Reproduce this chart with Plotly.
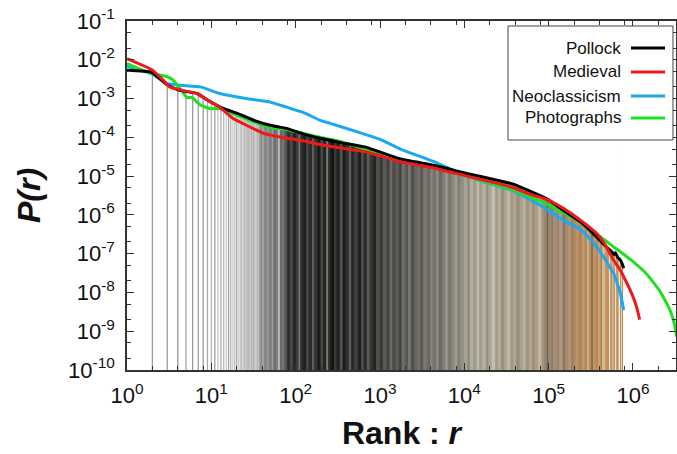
import plotly.graph_objects as go

# ---------------- data ----------------
pollock_rank = [1, 1.95, 2.95, 4.1, 6.8, 8.9, 13.8, 20, 32, 50, 78, 123, 195, 355, 690, 1700,
                4300, 10700, 26000, 38000, 60000, 95000, 150000, 240000, 370000, 500000,
                560000, 590000, 620000, 660000, 700000, 740000, 776000]
pollock_p = [5.4e-3, 4.8e-3, 2.3e-3, 1.65e-3, 1.35e-3, 9.3e-4, 5.6e-4, 4.2e-4, 2.75e-4, 2.05e-4,
             1.7e-4, 1.23e-4, 9.5e-5, 7.2e-5, 5.5e-5, 2.8e-5, 1.9e-5, 1.17e-5, 7.6e-6, 6.2e-6,
             4.1e-6, 2.6e-6, 1.3e-6, 6.6e-7, 2.7e-7, 1.4e-7, 1.12e-7, 9.5e-8, 1.05e-7, 7.9e-8,
             7.1e-8, 5.6e-8, 4.2e-8]

medieval_rank = [1, 1.95, 2.7, 3.2, 4.7, 6.8, 9.8, 12.6, 18, 26, 42, 65, 123, 195, 355, 690,
                 1740, 4400, 10700, 26300, 38000, 60000, 95000, 151000, 240000, 372000, 468000,
                 590000, 710000, 850000, 1000000, 1100000, 1200000]
medieval_p = [1.07e-2, 5.6e-3, 2.95e-3, 2.0e-3, 1.6e-3, 1.35e-3, 8.1e-4, 6.0e-4, 3.1e-4, 2.05e-4,
              1.26e-4, 1.02e-4, 8.1e-5, 6.5e-5, 5.2e-5, 4.2e-5, 2.35e-5, 1.6e-5, 1.0e-5, 6.3e-6,
              5.0e-6, 3.4e-6, 2.5e-6, 1.45e-6, 7.2e-7, 3.3e-7, 1.7e-7, 6.8e-8, 3.7e-8, 1.7e-8,
              7.8e-9, 4.3e-9, 2.0e-9]

neo_rank = [1, 1.95, 2.95, 4.3, 7.4, 12.6, 26, 50, 78, 123, 195, 257, 575, 1000, 1740, 4400,
            8900, 15500, 26300, 38000, 60000, 95000, 151000, 240000, 372000, 590000, 650000,
            710000, 776000]
neo_p = [6.8e-3, 4.4e-3, 2.45e-3, 2.2e-3, 2.0e-3, 1.35e-3, 1.0e-3, 8.1e-4, 6.0e-4, 4.4e-4,
         2.75e-4, 2.3e-4, 1.32e-4, 8.9e-5, 5.0e-5, 2.35e-5, 1.17e-5, 7.6e-6, 5.4e-6, 4.2e-6,
         2.5e-6, 1.4e-6, 7.2e-7, 4.2e-7, 1.5e-7, 3.1e-8, 1.7e-8, 9.3e-9, 3.5e-9]

photo_rank = [1, 1.95, 2.95, 3.55, 4.7, 5.1, 5.9, 7.4, 9.7, 12.6, 18, 32, 50, 78, 123, 195, 355,
              690, 1740, 4400, 10700, 26300, 38000, 60000, 95000, 151000, 240000, 372000,
              590000, 930000, 1450000, 2100000, 2750000, 3150000, 3300000]
photo_p = [7.9e-3, 4.4e-3, 3.7e-3, 2.95e-3, 1.35e-3, 1.07e-3, 1.07e-3, 6.8e-4, 5.5e-4, 5.5e-4,
           4.1e-4, 2.5e-4, 1.8e-4, 1.6e-4, 1.26e-4, 1.0e-4, 7.6e-5, 4.8e-5, 2.5e-5, 1.8e-5,
           1.0e-5, 5.6e-6, 4.4e-6, 2.9e-6, 1.9e-6, 1.1e-6, 6.6e-7, 3.2e-7, 1.5e-7, 7.1e-8,
           3.0e-8, 1.05e-8, 3.5e-9, 1.3e-9, 7.2e-10]

series_names = ["Pollock", "Medieval", "Neoclassicism", "Photographs"]
series_colors = ["#000000", "#ee1a1a", "#1ba8f0", "#1fe01f"]

# Pollock colour bars: individual low ranks
bar_ranks = list(range(2, 39))
bar_colors = ["#9a9a9a", "#9c9c9c", "#9a9a9a", "#a4a4a4", "#9a9a9a", "#a0a0a0", "#9c9c9c",
              "#a8a8a8", "#b8b8b8", "#a0a0a0", "#c6c6c6", "#aaaaaa", "#bcbcbc", "#c8c8c8",
              "#a4a4a4", "#b4b4b4", "#cccccc", "#bdbdbd", "#a8a8a8", "#d2d2d2", "#c0c0c0",
              "#b0b0b0", "#d0d0d0", "#a6a6a6", "#c4c4c4", "#b8b8b8", "#9e9e9e", "#cfcfcf",
              "#b2b2b2", "#c2c2c2", "#a2a2a2", "#bababa", "#d4d4d4", "#acacac", "#c0c0c0",
              "#9a9a9a", "#b6b6b6"]

# Pollock colour bars: dense ranks, given as log10(rank) of band starts
band_log10_rank = [1.58, 1.61, 1.63, 1.66, 1.69, 1.72, 1.74, 1.77, 1.80, 1.815, 1.84, 1.87,
                   1.90, 1.94, 1.97, 2.01, 2.04, 2.055, 2.09, 2.13, 2.16, 2.20, 2.22, 2.26, 2.30,
                   2.33, 2.37, 2.385, 2.42, 2.46, 2.49, 2.53, 2.56, 2.60, 2.64, 2.66, 2.70, 2.74,
                   2.78, 2.81, 2.85, 2.88, 2.92, 2.96, 3.00, 3.04, 3.08, 3.12, 3.15, 3.19, 3.23,
                   3.26, 3.30, 3.34, 3.37, 3.41, 3.45, 3.48, 3.52, 3.56, 3.60, 3.63, 3.67, 3.70,
                   3.74, 3.78, 3.81, 3.85, 3.89, 3.92, 3.96, 4.00, 4.04, 4.07, 4.11, 4.15, 4.18,
                   4.22, 4.26, 4.29, 4.33, 4.37, 4.40, 4.44, 4.48, 4.51, 4.55, 4.59, 4.62, 4.66,
                   4.70, 4.73, 4.77, 4.81, 4.84, 4.88, 4.92, 4.95, 4.985, 5.00, 5.03, 5.06, 5.10,
                   5.13, 5.17, 5.20, 5.24, 5.27, 5.30, 5.33, 5.36, 5.40, 5.43, 5.46, 5.48, 5.51,
                   5.53, 5.56, 5.59, 5.62, 5.64, 5.67, 5.70, 5.72, 5.73, 5.76, 5.775, 5.79, 5.80,
                   5.82, 5.835, 5.845, 5.86, 5.87, 5.882]
band_colors = ["#8e8e8e", "#a4a4a4", "#858585", "#959595", "#7c7c7c", "#9c9c9c", "#6f6f6f",
               "#7d7d7b", "#d6d6cc", "#666666", "#747472", "#5a5a5a", "#2e2e2e", "#4a4a48",
               "#262626", "#3c3c3a", "#8a8a80", "#303030", "#1e1e1e", "#454543", "#2a2a2a",
               "#666660", "#333333", "#1a1a1a", "#4a4a46", "#242424", "#9a9a8e", "#2c2c2c",
               "#141414", "#3a3a38", "#222222", "#55554f", "#1c1c1c", "#303030", "#6a6a62",
               "#262626", "#404040", "#1e1e1e", "#4e4e4a", "#2e2e2e", "#5e5e58", "#363636",
               "#242424", "#50504c", "#3a3a38", "#5a5955", "#444442", "#6a6964", "#4c4c48",
               "#5e5d58", "#3e3e3c", "#6e6d66", "#575652", "#7a786f", "#4e4d49", "#64635d",
               "#727068", "#5a5954", "#7c7a71", "#6a6862", "#85837a", "#74726a", "#8e8b80",
               "#6c6a63", "#807e74", "#9a978a", "#77756c", "#8a877c", "#a09c8e", "#838076",
               "#959184", "#a6a293", "#8d8a7e", "#b2ad9c", "#9e9a8c", "#c0baa8", "#a39e8f",
               "#b6b09e", "#928e80", "#aca696", "#c4bda9", "#a19a8a", "#b3ab98", "#988f80",
               "#aea491", "#c2b8a2", "#a49a88", "#b0a590", "#978d7c", "#aaa08b", "#bdb29b",
               "#a1957f", "#b2a58e", "#9b8f7c", "#ab9e88", "#c4b69d", "#a29480", "#948672",
               "#6a5546", "#a08a74", "#8f7a66", "#a89078", "#9a8470", "#b09880", "#8c7662",
               "#a48a70", "#b8966e", "#9a7e62", "#b48c64", "#c0925f", "#a98463", "#c69a68",
               "#b08660", "#d0b890", "#bc8c5c", "#8a6a50", "#c49464", "#b3895e", "#cfa06a",
               "#a88058", "#d6c29a", "#c8935a", "#b88a5e", "#ffffff", "#c4965e", "#d6c29a",
               "#b08255", "#ffffff", "#c89a64", "#b88c5c", "#ffffff", "#c08a52", "#e0d0a8",
               "#b58a5a"]

x_tick_vals = [1, 10, 100, 1000, 10000, 100000, 1000000]
x_tick_text = ["10<sup>0</sup>", "10<sup>1</sup>", "10<sup>2</sup>", "10<sup>3</sup>",
               "10<sup>4</sup>", "10<sup>5</sup>", "10<sup>6</sup>"]
y_tick_vals = [1e-10, 1e-9, 1e-8, 1e-7, 1e-6, 1e-5, 1e-4, 1e-3, 1e-2, 1e-1]
y_tick_text = ["10<sup>-10</sup>", "10<sup>-9</sup>", "10<sup>-8</sup>", "10<sup>-7</sup>",
               "10<sup>-6</sup>", "10<sup>-5</sup>", "10<sup>-4</sup>", "10<sup>-3</sup>",
               "10<sup>-2</sup>", "10<sup>-1</sup>"]

Y_BOTTOM = 1e-10
Y_TOP = 1e-1
FONT = "Liberation Sans, Arial, Helvetica, sans-serif"

fig = go.Figure()

# --- colour bars (full height, later masked above the Pollock curve) ---
groups = {}
for r, c in zip(bar_ranks, bar_colors):
    g = groups.setdefault(c, ([], []))
    g[0].extend([r, r, None])
    g[1].extend([Y_BOTTOM, Y_TOP, None])
for c, (xs, ys) in groups.items():
    fig.add_trace(go.Scatter(x=xs, y=ys, mode="lines", line=dict(color=c, width=1.3),
                             hoverinfo="skip", showlegend=False))

n_bands = len(band_colors)
for i, c in enumerate(band_colors):
    s = 10 ** band_log10_rank[i]
    e = 10 ** band_log10_rank[i + 1]
    edge = 0.8 if i < n_bands - 3 else 0
    fig.add_trace(go.Scatter(x=[s, e, e, s, s], y=[Y_BOTTOM, Y_BOTTOM, Y_TOP, Y_TOP, Y_BOTTOM],
                             mode="lines", fill="toself", fillcolor=c,
                             line=dict(color=c, width=edge),
                             hoverinfo="skip", showlegend=False))

# --- white mask above the Pollock curve ---
fig.add_trace(go.Scatter(x=pollock_rank, y=[1.0] * len(pollock_rank), mode="lines",
                         line=dict(width=0, color="white"), hoverinfo="skip", showlegend=False))
fig.add_trace(go.Scatter(x=pollock_rank, y=pollock_p, mode="lines", fill="tonexty",
                         fillcolor="white", line=dict(width=0, color="white"),
                         hoverinfo="skip", showlegend=False))

# --- the four curves ---
all_x = [pollock_rank, medieval_rank, neo_rank, photo_rank]
all_y = [pollock_p, medieval_p, neo_p, photo_p]
for k in [2, 3, 0, 1]:
    fig.add_trace(go.Scatter(x=all_x[k], y=all_y[k], mode="lines", name=series_names[k],
                             line=dict(color=series_colors[k], width=3, shape="spline",
                                       smoothing=0.4),
                             showlegend=False))

# --- legend (text right-aligned, key line on the right, as in the reference) ---
shapes = [dict(type="rect", xref="paper", yref="paper", x0=0.694, x1=0.9945, y0=0.659,
               y1=0.9857, line=dict(color="#444444", width=1), fillcolor="white", layer="above")]
annotations = []
row_y = [0.9226, 0.8539, 0.7851, 0.7221]
for name, col, yy in zip(series_names, series_colors, row_y):
    annotations.append(dict(text=name, xref="paper", yref="paper", x=0.9035, y=yy,
                            xanchor="right", yanchor="middle", showarrow=False,
                            font=dict(family=FONT, size=17, color="#111111")))
    shapes.append(dict(type="line", xref="paper", yref="paper", x0=0.918, x1=0.98, y0=yy,
                       y1=yy, line=dict(color=col, width=3), layer="above"))

axis_common = dict(type="log", showline=True, linecolor="#333333", linewidth=1.5,
                   mirror="allticks", ticks="inside", ticklen=7, tickwidth=1.2,
                   tickcolor="#333333", showgrid=False, zeroline=False, automargin=False,
                   tickfont=dict(family=FONT, size=22, color="#111111"))

fig.update_layout(
    width=677, height=454,
    margin=dict(l=127, r=1, t=21, b=84),
    paper_bgcolor="white", plot_bgcolor="white",
    font=dict(family=FONT, color="#111111"),
    shapes=shapes, annotations=annotations,
    xaxis=dict(axis_common, range=[0, 6.51], tickvals=x_tick_vals, ticktext=x_tick_text,
               ticklabelstandoff=5,
               minor=dict(ticks="inside", ticklen=4, tickcolor="#333333",
                          tickvals=[2, 4, 8, 20, 40, 80, 200, 400, 800, 2e3, 4e3, 8e3, 2e4, 4e4,
                                    8e4, 2e5, 4e5, 8e5, 2e6]),
               title=dict(text="<b>Rank : <i>r</i></b>", standoff=14,
                          font=dict(family=FONT, size=32, color="#111111"))),
    yaxis=dict(axis_common, range=[-10, -1], tickvals=y_tick_vals, ticktext=y_tick_text,
               ticklabelstandoff=6,
               minor=dict(ticks="inside", ticklen=4, tickcolor="#333333",
                          tickvals=[m * 10.0 ** e for e in range(-10, -1) for m in (2, 5)]),
               title=dict(text="<b><i>P(r)</i></b>", standoff=18,
                          font=dict(family=FONT, size=32, color="#111111"))),
)

fig.write_html("out.html", config={"displayModeBar": False},
               post_script="document.body.style.margin='0px';")
